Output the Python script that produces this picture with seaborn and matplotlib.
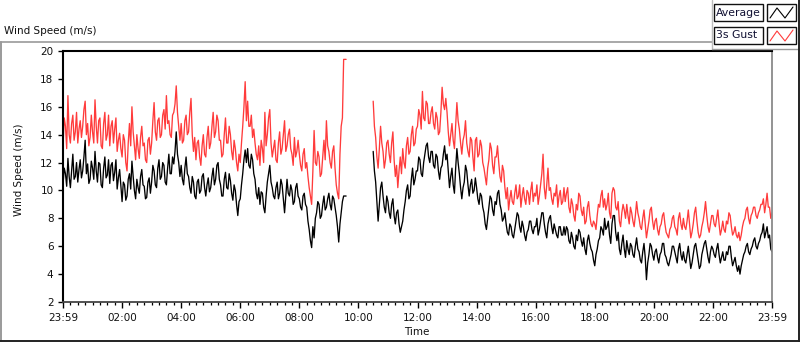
import numpy as np
import pandas as pd
import matplotlib
matplotlib.use("Agg")
import matplotlib.pyplot as plt
import seaborn as sns
from matplotlib.lines import Line2D
from matplotlib.patches import Rectangle

# ---------------- data (2.5-minute samples, from 23:59 onward) ----------------
avg_speed = [
    # 00
    10.4, 11.6, 11.2, 10.3, 12.3, 11.0, 10.2, 11.4, 12.6, 10.8, 11.0, 12.0,
    10.6, 11.5, 12.2, 10.9, 11.4, 12.4, 13.6, 11.2, 11.9, 10.5, 10.8, 12.1,
    # 01
    11.6, 10.8, 12.8, 11.4, 10.6, 12.0, 11.9, 10.4, 10.2, 11.6, 12.4, 10.9,
    11.1, 12.2, 10.5, 11.8, 12.0, 10.7, 11.3, 12.2, 10.1, 10.9, 11.5, 10.3,
    # 02
    9.2, 10.6, 10.4, 9.3, 9.6, 10.8, 11.2, 10.1, 12.1, 11.0, 10.0, 9.4,
    10.8, 10.2, 9.8, 11.0, 11.5, 10.4, 10.3, 9.4, 9.5, 10.6, 10.9, 9.8,
    # 03
    10.6, 11.8, 11.4, 10.4, 10.2, 11.6, 12.2, 10.8, 11.0, 12.0, 11.8, 10.6,
    10.4, 11.6, 12.6, 11.2, 11.2, 12.4, 11.9, 12.8, 14.2, 12.6, 12.0, 11.0,
    # 04
    11.8, 10.8, 10.4, 11.6, 12.4, 11.2, 11.0, 10.2, 9.8, 11.0, 10.6, 9.6,
    9.4, 10.6, 10.8, 9.8, 10.0, 11.0, 11.2, 10.2, 9.6, 10.4, 10.9, 9.9,
    # 05
    10.2, 11.0, 11.6, 10.4, 10.8, 11.8, 12.0, 10.8, 10.4, 9.6, 9.6, 10.8,
    11.3, 10.2, 10.1, 11.2, 10.7, 9.8, 9.3, 10.4, 10.0, 9.0, 8.2, 9.2,
    # 06
    9.4, 10.4, 11.2, 12.2, 12.9, 12.0, 13.0, 11.8, 11.6, 12.6, 12.2, 11.2,
    10.8, 9.8, 9.4, 10.2, 9.0, 9.9, 9.8, 8.8, 8.4, 9.6, 10.6, 11.2,
    # 07
    11.8, 10.6, 10.2, 9.6, 9.4, 10.2, 10.6, 9.4, 9.8, 10.8, 10.4, 9.4,
    8.4, 9.6, 10.8, 9.8, 9.6, 10.4, 10.0, 9.0, 9.2, 10.2, 10.5, 9.6,
    # 08
    9.4, 8.8, 8.6, 9.6, 9.8, 9.0, 8.8, 7.8, 7.2, 6.4, 5.9, 7.4,
    6.6, 8.0, 8.4, 9.2, 9.0, 8.0, 8.2, 9.0, 9.6, 8.6, 8.8, 9.4,
    # 09 (until logging stops)
    9.8, 9.0, 8.6, 9.6, 9.4, 8.8, 8.2, 7.4, 6.3, 7.6, 8.4, 9.2, 9.6, 9.6, 9.6,
    # gap (no data)
    None, None, None, None, None, None, None, None, None, None, None,
    None, None, None, None, None, None, None, None, None, None,
    # 10 (logging resumes 10:30)
    12.8, 11.4, 10.6, 9.2, 7.8, 9.0, 10.2, 10.6, 9.6, 8.8, 8.4, 9.6,
    # 11
    9.2, 8.4, 8.0, 9.0, 9.4, 8.2, 7.6, 8.4, 8.6, 7.6, 7.0, 7.4,
    7.8, 8.6, 9.2, 10.0, 10.4, 9.4, 9.6, 10.8, 11.6, 10.4, 10.8, 11.4,
    # 12
    11.4, 12.4, 12.2, 11.2, 11.0, 12.0, 12.6, 13.2, 13.4, 12.4, 12.0, 12.8,
    12.8, 11.8, 11.6, 12.6, 12.4, 11.4, 10.8, 11.6, 11.8, 12.6, 13.2, 12.2,
    # 13
    12.6, 11.4, 10.2, 11.0, 11.6, 10.4, 9.8, 11.6, 13.0, 12.0, 11.2, 10.2,
    9.4, 10.2, 10.6, 11.8, 11.4, 10.4, 9.6, 10.4, 10.8, 9.8, 10.0, 10.9,
    # 14
    10.2, 9.4, 9.0, 9.8, 9.6, 8.8, 8.4, 7.6, 7.2, 8.0, 8.8, 9.6,
    9.4, 8.6, 8.2, 9.2, 9.0, 9.8, 10.0, 9.0, 8.6, 7.8, 8.0, 8.4,
    # 15
    7.6, 7.0, 6.8, 7.6, 7.4, 6.8, 6.6, 7.2, 7.8, 8.4, 8.2, 7.4,
    7.0, 7.8, 7.4, 6.8, 6.4, 7.0, 7.2, 7.8, 7.8, 7.2, 6.9, 7.4,
    # 16
    7.4, 8.0, 6.8, 7.2, 7.8, 8.4, 8.4, 7.6, 7.0, 6.6, 7.6, 8.0,
    8.2, 7.4, 6.9, 7.6, 7.2, 6.8, 6.6, 7.4, 7.4, 6.8, 6.8, 7.4,
    # 17
    6.8, 7.4, 7.2, 6.4, 6.2, 7.0, 6.6, 6.0, 5.8, 6.8, 6.4, 7.2,
    7.0, 6.4, 6.0, 6.6, 5.8, 5.4, 6.4, 6.8, 6.2, 5.8, 5.6, 5.0,
    # 18
    4.6, 5.4, 5.8, 6.4, 6.6, 7.4, 7.2, 6.8, 8.0, 7.2, 7.4, 7.8,
    6.8, 6.2, 7.6, 8.2, 8.2, 7.0, 6.4, 7.0, 5.8, 5.4, 6.2, 6.8,
    # 19
    5.8, 5.2, 6.4, 5.8, 5.4, 6.2, 6.0, 5.4, 5.2, 6.0, 6.6, 5.8,
    5.6, 5.0, 4.8, 5.6, 6.2, 5.2, 3.6, 4.8, 5.4, 6.2, 6.0, 5.4,
    # 20
    5.0, 5.6, 5.8, 5.2, 4.8, 5.4, 5.6, 6.2, 6.2, 5.4, 5.2, 4.8,
    4.6, 5.0, 5.4, 6.0, 6.0, 5.6, 5.2, 4.8, 5.8, 6.2, 5.4, 5.0,
    # 21
    5.6, 5.0, 4.8, 5.4, 6.0, 5.2, 4.4, 4.8, 5.4, 6.0, 6.2, 5.6,
    5.0, 4.4, 4.6, 5.4, 5.8, 6.2, 6.4, 5.8, 5.2, 4.8, 5.6, 6.0,
    # 22
    5.8, 5.4, 5.2, 5.8, 6.2, 5.4, 4.8, 5.2, 5.6, 5.0, 5.0, 5.6,
    5.4, 6.0, 6.0, 5.2, 4.6, 4.9, 5.2, 4.6, 4.2, 4.6, 4.0, 4.6,
    # 23
    5.0, 5.4, 5.6, 6.0, 6.2, 5.6, 5.4, 5.8, 6.0, 6.4, 6.6, 6.0,
    5.8, 6.2, 6.4, 6.8, 7.0, 7.6, 6.6, 7.0, 7.4, 6.6, 6.8, 5.8,
    # end 23:59
    5.6,
]

gust_speed = [
    # 00
    13.2, 15.2, 14.6, 13.0, 16.8, 14.0, 13.4, 14.8, 15.4, 13.6, 14.2, 15.6,
    13.4, 14.4, 15.0, 13.8, 14.6, 15.8, 16.4, 14.0, 14.8, 13.2, 13.8, 15.4,
    # 01
    14.2, 13.4, 16.5, 14.6, 13.4, 15.0, 15.2, 13.2, 13.0, 14.8, 15.6, 13.6,
    14.0, 15.4, 13.2, 14.6, 15.0, 13.4, 14.4, 15.2, 12.8, 13.6, 14.1, 13.0,
    # 02
    12.4, 14.0, 13.6, 12.0, 11.4, 13.4, 14.8, 13.2, 16.0, 14.2, 13.2, 12.2,
    14.0, 13.0, 12.3, 13.8, 14.6, 13.2, 13.4, 12.2, 12.0, 13.6, 13.8, 12.6,
    # 03
    13.4, 15.0, 16.3, 14.2, 13.6, 15.0, 15.2, 13.8, 14.0, 15.4, 15.8, 14.4,
    16.8, 14.8, 15.0, 14.0, 13.8, 15.4, 15.6, 16.2, 17.5, 15.6, 14.6, 13.6,
    # 04
    14.8, 13.4, 13.6, 15.0, 15.4, 14.0, 14.2, 15.6, 16.6, 14.0, 12.8, 13.8,
    12.2, 13.4, 13.6, 12.4, 11.8, 13.2, 14.0, 12.6, 12.4, 13.8, 14.6, 13.0,
    # 05
    13.4, 14.6, 15.6, 13.8, 14.2, 15.4, 15.0, 13.6, 13.6, 12.4, 12.6, 14.0,
    15.2, 13.4, 13.4, 14.6, 14.0, 12.8, 12.2, 13.6, 13.0, 12.0, 11.4, 12.6,
    # 06
    12.0, 13.4, 14.6, 16.0, 17.8, 15.0, 16.4, 14.6, 14.6, 15.4, 13.8, 14.4,
    13.4, 12.6, 12.2, 13.2, 11.8, 13.6, 13.0, 12.0, 15.6, 13.2, 14.0, 15.2,
    # 07
    15.8, 13.4, 12.4, 13.0, 13.6, 12.2, 12.0, 13.4, 14.2, 12.6, 13.0, 14.0,
    15.0, 12.8, 13.2, 14.0, 14.4, 13.0, 12.6, 11.8, 13.8, 12.4, 12.8, 13.6,
    # 08
    12.6, 11.8, 11.4, 12.6, 13.0, 11.6, 12.0, 11.0, 10.2, 9.6, 9.0, 11.4,
    14.3, 12.0, 11.8, 12.8, 12.4, 11.0, 11.2, 12.4, 13.6, 12.2, 15.0, 13.2,
    # 09 (until logging stops)
    12.8, 12.0, 11.6, 12.8, 13.2, 11.6, 10.4, 9.8, 9.4, 12.6, 14.6, 15.2, 19.4, 19.4, 19.4,
    # gap (no data)
    None, None, None, None, None, None, None, None, None, None, None,
    None, None, None, None, None, None, None, None, None, None,
    # 10 (logging resumes 10:30)
    16.4, 14.6, 13.8, 12.4, 11.6, 13.0, 14.6, 13.4, 12.8, 11.6, 12.2, 13.4,
    # 11
    13.6, 12.6, 12.0, 13.4, 14.2, 12.2, 11.0, 11.8, 10.2, 11.4, 12.4, 11.2,
    13.0, 12.0, 11.6, 13.2, 13.8, 12.6, 12.8, 14.0, 14.6, 13.2, 13.4, 14.4,
    # 12
    14.6, 15.8, 15.4, 14.4, 17.1, 15.2, 15.0, 16.4, 16.2, 14.8, 14.8, 15.6,
    16.0, 14.8, 14.4, 15.6, 15.2, 14.0, 14.2, 15.6, 17.4, 16.2, 15.8, 16.6,
    # 13
    15.6, 14.2, 13.2, 14.0, 14.8, 13.6, 13.0, 14.6, 16.3, 15.0, 14.4, 13.4,
    12.6, 13.6, 14.0, 15.0, 13.4, 12.8, 12.4, 13.8, 13.6, 12.4, 11.4, 13.6,
    # 14
    13.8, 12.4, 12.6, 13.6, 13.2, 12.0, 11.6, 11.0, 10.4, 11.6, 12.2, 13.4,
    13.0, 11.8, 11.2, 12.4, 12.4, 13.2, 12.0, 11.0, 10.6, 11.8, 11.4, 10.2,
    # 15
    9.4, 10.2, 8.6, 9.4, 10.0, 9.2, 9.0, 9.8, 10.4, 9.4, 9.6, 10.4,
    8.8, 9.6, 10.2, 9.4, 9.0, 10.0, 9.8, 9.0, 10.0, 10.6, 9.2, 9.8,
    # 16
    9.6, 10.4, 9.0, 9.6, 10.4, 11.2, 12.6, 10.2, 9.4, 10.4, 11.6, 10.0,
    10.2, 9.4, 9.0, 9.8, 9.6, 10.4, 8.8, 9.6, 10.0, 9.0, 9.2, 10.2,
    # 17
    9.2, 9.8, 10.2, 8.8, 8.4, 9.4, 9.0, 8.2, 7.8, 9.0, 8.6, 9.8,
    9.6, 8.6, 8.2, 8.8, 7.6, 7.8, 8.8, 9.2, 8.2, 7.6, 7.4, 7.8,
    # 18
    7.6, 7.2, 8.2, 9.0, 8.8, 9.6, 10.0, 8.8, 9.4, 8.6, 9.0, 9.8,
    8.4, 8.0, 9.8, 10.2, 10.0, 8.8, 8.6, 9.2, 7.8, 7.4, 8.4, 9.0,
    # 19
    8.6, 8.0, 9.0, 8.2, 7.6, 8.8, 8.4, 7.8, 7.4, 8.2, 9.2, 8.4,
    8.0, 7.4, 7.2, 8.0, 8.6, 7.6, 6.6, 7.2, 7.8, 8.6, 8.8, 7.8,
    # 20
    7.2, 7.8, 8.0, 7.2, 6.8, 7.4, 7.6, 8.2, 8.4, 7.6, 7.0, 6.8,
    6.6, 7.2, 7.4, 8.0, 8.2, 7.4, 7.2, 6.8, 8.0, 8.4, 7.6, 7.2,
    # 21
    8.0, 7.4, 7.2, 7.8, 8.6, 7.6, 6.6, 7.0, 7.6, 8.4, 8.8, 7.8,
    7.0, 6.6, 6.8, 7.4, 7.8, 8.4, 9.2, 8.2, 7.4, 7.0, 7.6, 8.2,
    # 22
    8.2, 7.6, 7.4, 8.0, 8.6, 7.6, 6.8, 7.2, 7.8, 7.2, 7.0, 7.8,
    7.6, 8.4, 8.2, 7.4, 6.8, 7.0, 7.4, 6.8, 6.6, 7.0, 6.4, 6.8,
    # 23
    7.4, 7.8, 8.0, 8.6, 8.8, 8.0, 7.6, 8.2, 8.4, 8.8, 8.8, 8.2,
    8.0, 8.4, 8.6, 9.0, 9.0, 9.4, 8.4, 9.0, 9.8, 8.8, 8.8, 8.0,
    # end 23:59
    8.4,
]

series_names = ["Average", "3s Gust"]
series_colors = ["#000000", "#ff3b3b"]
x_tick_labels = ["23:59", "02:00", "04:00", "06:00", "08:00", "10:00", "12:00",
                 "14:00", "16:00", "18:00", "20:00", "22:00", "23:59"]
y_ticks = [2, 4, 6, 8, 10, 12, 14, 16, 18, 20]

# ---------------- build table ----------------
n = len(avg_speed)
hours = np.arange(n) * 2.5 / 60.0
avg_arr = np.array([np.nan if v is None else v for v in avg_speed], dtype=float)
gust_arr = np.array([np.nan if v is None else v for v in gust_speed], dtype=float)
segment = np.cumsum(np.concatenate([[0], np.diff(np.isnan(avg_arr).astype(int)) != 0]))

df = pd.DataFrame({
    "hours": np.concatenate([hours, hours]),
    "speed": np.concatenate([avg_arr, gust_arr]),
    "series": [series_names[0]] * n + [series_names[1]] * n,
    "segment": np.concatenate([segment, segment]),
}).dropna()

# ---------------- style ----------------
sns.set_theme(style="white")
plt.rcParams["font.family"] = ["DejaVu Sans"]
plt.rcParams["font.size"] = 7.5

W, H = 800, 342
fig = plt.figure(figsize=(W / 100, H / 100), dpi=100)
fig.patch.set_facecolor("white")

L, R, T, B = 63, 772, 51, 302
ax = fig.add_axes([L / W, 1 - B / H, (R - L) / W, (B - T) / H])
ax.set_facecolor("white")

sns.lineplot(data=df, x="hours", y="speed", hue="series", units="segment",
             estimator=None, sort=False, hue_order=series_names,
             palette=dict(zip(series_names, series_colors)),
             linewidth=0.95, legend=False, ax=ax)

ax.set_xlim(0, 24)
ax.set_ylim(2, 20)
ax.set_xticks(np.arange(0, 25, 2))
ax.set_xticklabels(x_tick_labels)
ax.set_xticks(np.arange(0, 24.001, 0.25), minor=True)
ax.set_yticks(y_ticks)
ax.set_yticklabels([str(v) for v in y_ticks])

ax.tick_params(axis="x", which="major", direction="out", length=4.3, width=1.0,
               color="black", pad=3.4, labelsize=7.5, labelcolor="#111111",
               bottom=True)
ax.tick_params(axis="x", which="minor", direction="out", length=2.2, width=0.9,
               color="black", bottom=True)
ax.tick_params(axis="y", which="major", direction="out", length=3.6, width=1.0,
               color="black", pad=3.2, labelsize=7.5, labelcolor="#111111",
               left=True)

for side in ["top", "left"]:
    ax.spines[side].set_color("black")
    ax.spines[side].set_linewidth(1.5)
ax.spines["bottom"].set_color("#444444")
ax.spines["bottom"].set_linewidth(1.3)
ax.spines["right"].set_color("#8a8a8a")
ax.spines["right"].set_linewidth(1.3)

ax.set_xlabel("Time", fontsize=7.5, color="#111111")
ax.set_ylabel("Wind Speed (m/s)", fontsize=7.5, color="#111111")
ax.xaxis.set_label_coords((417 - L) / (R - L), (B - 327) / (B - T))
ax.yaxis.set_label_coords((24 - L) / (R - L), (B - 170) / (B - T))

# ---------------- panel frame & title ----------------
def fx(px):
    return px / W

def fy(py):
    return 1 - py / H

fig.add_artist(Line2D([fx(0), fx(712)], [fy(42), fy(42)], color="#9a9a9a", lw=1.2))
fig.add_artist(Line2D([fx(1), fx(1)], [fy(42), fy(341)], color="#9a9a9a", lw=1.4))
fig.add_artist(Line2D([fx(0), fx(800)], [fy(340.5), fy(340.5)], color="#222222", lw=1.4))
fig.add_artist(Line2D([fx(712), fx(712)], [fy(0), fy(49)], color="#bcbcbc", lw=1.0))
fig.add_artist(Line2D([fx(712), fx(798)], [fy(49), fy(49)], color="#9a9a9a", lw=1.0))
fig.add_artist(Line2D([fx(798.5), fx(798.5)], [fy(0), fy(342)], color="#222222", lw=1.4))

fig.text(fx(4), fy(31), "Wind Speed (m/s)", fontsize=7.5, color="#111111",
         ha="left", va="center")

# ---------------- legend ----------------
rows = [(4, 21), (27, 44)]
for (top, bot), name, col in zip(rows, series_names, series_colors):
    fig.add_artist(Rectangle((fx(714), fy(bot)), fx(763) - fx(714), fy(top) - fy(bot),
                             transform=fig.transFigure, facecolor="white",
                             edgecolor="#111111", lw=1.0))
    fig.text(fx(716), fy((top + bot) / 2), name, fontsize=7.8, color="#111133",
             ha="left", va="center")
    fig.add_artist(Rectangle((fx(767), fy(bot)), fx(796) - fx(767), fy(top) - fy(bot),
                             transform=fig.transFigure, facecolor="white",
                             edgecolor="#111111", lw=1.0))
    sx = [770, 777, 785, 793]
    sy = [bot - 3, top + 4, bot - 3, top + 3]
    fig.add_artist(Line2D([fx(v) for v in sx], [fy(v) for v in sy], color=col, lw=0.8))

fig.savefig("out.png", dpi=100, facecolor="white")
